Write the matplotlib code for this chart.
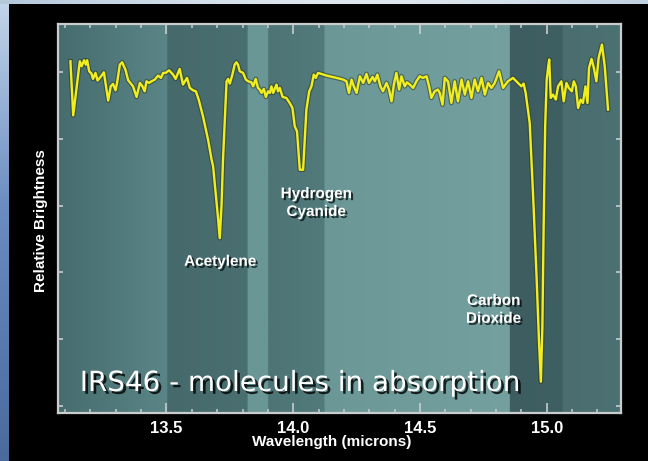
import numpy as np
import matplotlib
matplotlib.use("Agg")
import matplotlib.pyplot as plt
import matplotlib.patheffects as pe
from matplotlib.ticker import MultipleLocator, NullFormatter

# IRS46 spectrum: wavelength (microns) vs relative brightness
wavelength = [13.121, 13.132, 13.158, 13.165, 13.175, 13.182, 13.187, 13.195, 13.204, 13.210,
              13.220, 13.228, 13.240, 13.253, 13.270, 13.280, 13.289, 13.299, 13.305, 13.316,
              13.325, 13.338, 13.349, 13.368, 13.382, 13.395, 13.405, 13.414, 13.421, 13.431,
              13.441, 13.454, 13.467, 13.478, 13.487, 13.497, 13.510, 13.526, 13.536, 13.552,
              13.565, 13.581, 13.592, 13.605, 13.616, 13.627, 13.644, 13.664, 13.678, 13.684,
              13.694, 13.704, 13.710, 13.717, 13.723, 13.730, 13.737, 13.743, 13.750, 13.760,
              13.769, 13.776, 13.782, 13.789, 13.802, 13.813, 13.822, 13.835, 13.842, 13.852,
              13.861, 13.868, 13.875, 13.884, 13.892, 13.901, 13.908, 13.914, 13.921, 13.927,
              13.934, 13.940, 13.947, 13.958, 13.973, 13.986, 13.997, 14.006, 14.015, 14.026,
              14.039, 14.046, 14.052, 14.063, 14.072, 14.081, 14.089, 14.098, 14.131, 14.171,
              14.197, 14.210, 14.220, 14.230, 14.239, 14.250, 14.263, 14.276, 14.289, 14.299,
              14.313, 14.322, 14.332, 14.344, 14.354, 14.368, 14.378, 14.388, 14.397, 14.407,
              14.418, 14.427, 14.440, 14.449, 14.460, 14.473, 14.486, 14.499, 14.512, 14.526,
              14.536, 14.545, 14.558, 14.571, 14.578, 14.589, 14.598, 14.611, 14.624, 14.637,
              14.650, 14.664, 14.677, 14.690, 14.703, 14.716, 14.729, 14.743, 14.756, 14.769,
              14.782, 14.795, 14.812, 14.828, 14.847, 14.867, 14.887, 14.900, 14.909, 14.917,
              14.926, 14.933, 14.946, 14.960, 14.970, 14.977, 14.983, 14.988, 14.994, 15.000,
              15.007, 15.010, 15.016, 15.025, 15.036, 15.045, 15.058, 15.067, 15.078, 15.087,
              15.099, 15.107, 15.115, 15.124, 15.134, 15.143, 15.153, 15.161, 15.167, 15.177,
              15.186, 15.196, 15.205, 15.218, 15.229, 15.242]

brightness = [5.162, 4.352, 5.162, 5.087, 5.177, 5.112, 5.177, 5.012, 4.978, 4.898,
              4.988, 4.873, 4.928, 4.997, 4.573, 4.787, 4.823, 4.727, 4.838, 5.112,
              5.147, 5.037, 4.877, 4.787, 4.628, 4.838, 4.787, 4.712, 4.862, 4.838,
              4.862, 4.888, 4.948, 4.913, 4.988, 4.988, 5.027, 4.963, 4.898, 5.048,
              4.813, 4.913, 4.763, 4.727, 4.712, 4.588, 4.337, 3.988, 3.688, 3.588,
              3.189, 2.789, 2.514, 2.988, 3.688, 4.288, 4.862, 4.898, 4.828, 4.963,
              5.112, 5.147, 5.112, 5.012, 4.988, 4.888, 4.862, 4.847, 4.787, 4.898,
              4.763, 4.738, 4.688, 4.748, 4.628, 4.712, 4.688, 4.787, 4.688, 4.748,
              4.813, 4.712, 4.763, 4.628, 4.613, 4.538, 4.463, 4.188, 4.113, 3.538,
              3.538, 4.038, 4.438, 4.712, 4.787, 4.963, 4.913, 4.988, 4.948, 4.913,
              4.888, 4.862, 4.688, 4.888, 4.787, 4.688, 4.937, 4.838, 4.973, 4.838,
              4.928, 4.862, 4.963, 4.787, 4.712, 4.838, 4.738, 4.562, 4.813, 4.988,
              4.738, 4.937, 4.787, 4.847, 4.813, 4.763, 4.862, 4.937, 4.913, 4.937,
              4.787, 4.613, 4.712, 4.738, 4.688, 4.513, 4.913, 4.858, 4.538, 4.862,
              4.562, 4.888, 4.663, 4.862, 4.613, 4.888, 4.712, 4.913, 4.663, 4.838,
              4.763, 4.838, 5.012, 4.763, 4.862, 4.913, 4.838, 4.787, 4.828, 4.688,
              4.438, 4.238, 3.189, 1.939, 0.940, 0.364, 1.189, 2.688, 4.188, 4.888,
              5.112, 5.188, 4.613, 4.663, 4.588, 4.787, 4.862, 4.562, 4.838, 4.763,
              4.712, 4.862, 4.787, 4.463, 4.588, 4.538, 4.787, 4.538, 5.063, 5.198,
              5.063, 4.862, 5.213, 5.412, 5.087, 4.438]

# molecule labels: (text, wavelength, brightness)
labels = [("Acetylene", 13.712, 2.16),
          ("Hydrogen\nCyanide", 14.091, 3.04),
          ("Carbon\nDioxide", 14.791, 1.44)]

title_text = "IRS46 - molecules in absorption"

xmin, xmax = 13.07, 15.292
ymin, ymax = -0.1, 5.72

# shaded vertical bands behind the spectrum: (start, end, left colour, right colour)
bands = [(13.07, 13.5, "#466c6e", "#5a8586"),
         (13.5, 13.817, "#466a6c", "#4a6f71"),
         (13.817, 13.896, "#6a9696", "#6a9696"),
         (13.896, 14.121, "#4e7476", "#527a7b"),
         (14.121, 14.852, "#6b9797", "#74a09f"),
         (14.852, 15.059, "#3d5d60", "#3f6063"),
         (15.059, 15.292, "#4a6e70", "#4c7173")]


def hex_rgb(h):
    return np.array([int(h[i:i + 2], 16) for i in (1, 3, 5)]) / 255.0


W, H = 648, 461
fig = plt.figure(figsize=(W / 100, H / 100), dpi=100)
fig.patch.set_facecolor("black")

# outer backdrop: black panel with a blue strip on the left and top edges
bg = np.zeros((H, W, 3))
rows = np.linspace(0, 1, H)[:, None]
left_top = hex_rgb("#c4d6ea")
left_mid = hex_rgb("#6a8cc0")
left_bot = hex_rgb("#4a6a9e")
strip = np.where(rows < 0.45,
                 left_top + (left_mid - left_top) * (rows / 0.45),
                 left_mid + (left_bot - left_mid) * ((rows - 0.45) / 0.55))
bg[:, :9, :] = strip[:, None, :]
cols = np.linspace(0, 1, W)[:, None]
top_a = hex_rgb("#b4c8dc")
top_b = hex_rgb("#dce6ee")
top_strip = top_a + (top_b - top_a) * np.clip(np.sin(cols * np.pi * 0.9), 0, 1)
bg[:5, :, :] = top_strip[None, :, :]
bg_ax = fig.add_axes([0, 0, 1, 1], zorder=-5)
bg_ax.imshow(bg, aspect="auto", extent=(0, 1, 0, 1))
bg_ax.axis("off")

ax = fig.add_axes([57.5 / W, 1 - 412.7 / H, (620.7 - 57.5) / W, (412.7 - 24) / H])

# band background image
xs = np.linspace(xmin, xmax, 800)
band_img = np.zeros((2, len(xs), 3))
for x0, x1, c0, c1 in bands:
    m = (xs >= x0) & (xs <= x1)
    t = ((xs[m] - x0) / (x1 - x0))[:, None]
    band_img[:, m, :] = hex_rgb(c0) + (hex_rgb(c1) - hex_rgb(c0)) * t
ax.imshow(band_img, aspect="auto", extent=(xmin, xmax, ymin, ymax),
          interpolation="bilinear", zorder=0)

ax.plot(wavelength, brightness, color="#f2ee1e", lw=1.7, zorder=3,
        solid_joinstyle="round",
        path_effects=[pe.Stroke(linewidth=3.4, foreground="#2a3a20", alpha=0.55),
                      pe.Normal()])

ax.set_xlim(xmin, xmax)
ax.set_ylim(ymin, ymax)

ax.xaxis.set_major_locator(MultipleLocator(0.5))
ax.xaxis.set_minor_locator(MultipleLocator(0.1))
ax.set_yticks([0, 1, 2, 3, 4, 5])
ax.yaxis.set_major_formatter(NullFormatter())

edge = "#c9cdcd"
for s in ax.spines.values():
    s.set_color(edge)
    s.set_linewidth(1.6)
ax.tick_params(axis="x", which="major", direction="in", length=7.2, width=1.2,
               color=edge, top=True, bottom=True, pad=6)
ax.tick_params(axis="x", which="minor", direction="in", length=3, width=1.1,
               color=edge, top=True, bottom=True)
ax.tick_params(axis="y", which="major", direction="in", length=3.5, width=1.2,
               color=edge, left=True, right=True)
for lab in ax.get_xticklabels():
    lab.set_fontfamily("Liberation Sans")
    lab.set_fontweight("bold")
    lab.set_fontsize(12)
    lab.set_color("white")

shadow = [pe.withSimplePatchShadow(offset=(1.5, -1.5), shadow_rgbFace="black", alpha=0.7)]

for text, x, y in labels:
    ax.text(x, y, text, ha="center", va="center", multialignment="center",
            fontfamily="Liberation Sans", fontweight="bold", fontsize=11,
            color="white", linespacing=1.35, zorder=4, path_effects=shadow)

ax.text(13.158, 0.225, title_text, ha="left", va="baseline",
        fontfamily="DejaVu Sans", fontsize=20, color="white", zorder=5,
        path_effects=[pe.withSimplePatchShadow(offset=(2, -2), shadow_rgbFace="black", alpha=0.8)])

fig.text(332 / W, 1 - 442 / H, "Wavelength (microns)", ha="center", va="center",
         fontfamily="Liberation Sans", fontweight="bold", fontsize=11, color="white")
fig.text(41.5 / W, 1 - 221 / H, "Relative Brightness", ha="center", va="center",
         rotation=90, fontfamily="Liberation Sans", fontweight="bold", fontsize=11,
         color="white")

fig.savefig("out.png", dpi=100, facecolor=fig.get_facecolor())
